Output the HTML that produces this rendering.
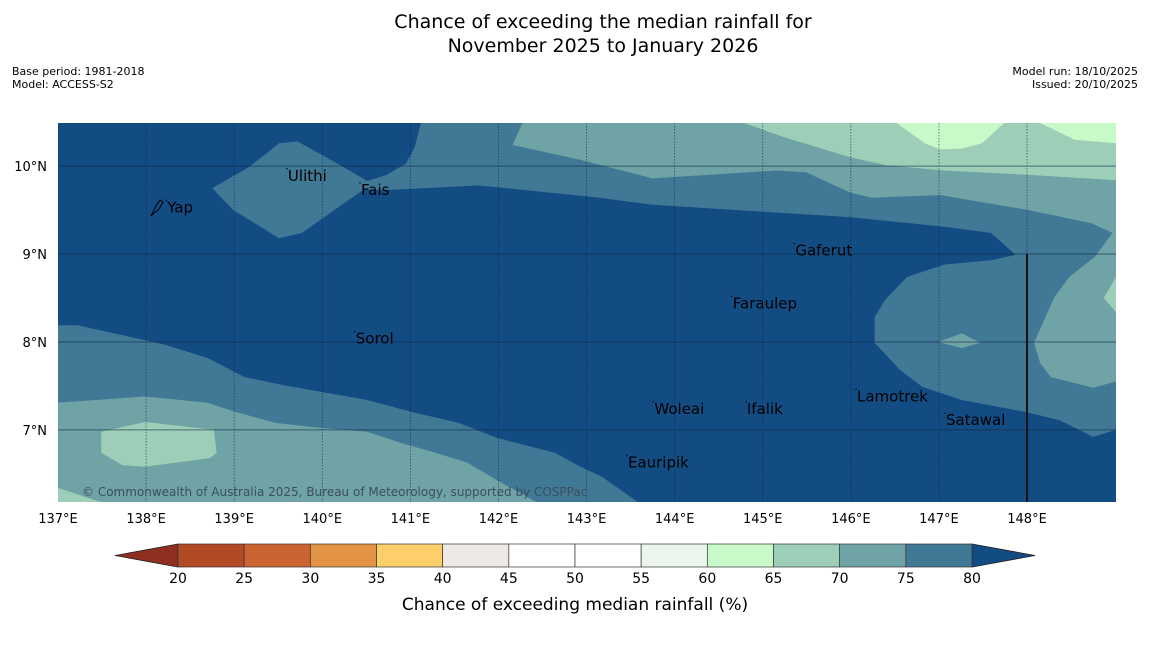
<!DOCTYPE html>
<html><head><meta charset="utf-8"><style>
html,body{margin:0;padding:0;background:#fff;}
body{width:1150px;height:644px;overflow:hidden;font-family:"DejaVu Sans","Liberation Sans",sans-serif;}
svg text{font-family:"DejaVu Sans","Liberation Sans",sans-serif;}
</style></head><body>
<svg id="chart" width="1150" height="644" xmlns="http://www.w3.org/2000/svg">
<text x="603" y="28" font-size="19" text-anchor="middle">Chance of exceeding the median rainfall for</text>
<text x="603" y="52" font-size="19" text-anchor="middle">November 2025 to January 2026</text>
<text x="12" y="75" font-size="11">Base period: 1981-2018</text>
<text x="12" y="88" font-size="11">Model: ACCESS-S2</text>
<text x="1138" y="75" font-size="11" text-anchor="end">Model run: 18/10/2025</text>
<text x="1138" y="88" font-size="11" text-anchor="end">Issued: 20/10/2025</text>
<g id="map"></g>
<g id="cbar"></g>
</svg>
<script>
const lonTicks=[137,138,139,140,141,142,143,144,145,146,147,148];
const latTicks=[7,8,9,10];
const levelColors={"75":"#417896","70":"#6fa3a5","65":"#9dcfb8","60":"#c8f9c9"};
const mid75N=[[141.12,10.49],[141.05,10.22],[140.95,10.03],[140.73,9.90],[140.51,9.83],[140.17,10.03],[139.72,10.28],[139.51,10.26],[139.17,9.99],[138.75,9.75],[138.99,9.50],[139.51,9.18],[139.77,9.24],[140.25,9.58],[140.47,9.73],[140.81,9.73],[141.77,9.78],[143.15,9.64],[143.75,9.56],[145.98,9.42],[147.06,9.31],[147.59,9.24],[147.87,8.99],[147.59,8.93],[147.06,8.88],[146.64,8.74],[146.39,8.48],[146.27,8.28],[146.27,7.99],[146.56,7.68],[146.81,7.49],[147.26,7.34],[148.00,7.20],[148.37,7.11],[148.75,6.92],[149.01,7.00],[149.01,10.49]];
const mid75SW=[[137,8.19],[137.22,8.19],[137.99,8.02],[138.21,7.97],[138.69,7.82],[139.12,7.60],[139.55,7.51],[140.17,7.40],[140.51,7.34],[141.03,7.20],[141.55,7.08],[141.98,6.91],[142.64,6.74],[142.93,6.58],[143.17,6.47],[143.58,6.18],[137,6.18]];
const t70SW=[[137,7.31],[137.99,7.38],[138.69,7.31],[139.03,7.20],[139.47,7.08],[140.00,7.02],[140.51,6.98],[140.90,6.85],[141.25,6.75],[141.64,6.63],[141.98,6.43],[142.43,6.18],[137,6.18]];
const t70NE=[[142.27,10.49],[142.16,10.24],[142.93,10.07],[143.75,9.86],[145.16,9.95],[145.49,9.93],[145.99,9.70],[146.24,9.64],[147.02,9.67],[148.02,9.50],[148.73,9.35],[148.97,9.24],[148.77,8.97],[148.48,8.74],[148.31,8.51],[148.08,7.99],[148.15,7.76],[148.27,7.60],[148.75,7.48],[149.01,7.55],[149.01,10.49]];
const t70small=[[146.99,8.00],[147.26,8.10],[147.47,7.99],[147.26,7.93]];
const g65corner=[[137,6.34],[137.48,6.18],[137,6.18]];
const g65SW=[[137.49,6.98],[137.99,7.09],[138.77,7.00],[138.80,6.74],[138.73,6.68],[137.99,6.58],[137.73,6.60],[137.49,6.74]];
const g65NE=[[144.79,10.49],[145.24,10.33],[145.99,10.10],[146.40,10.01],[147.06,9.95],[148.02,9.90],[149.01,9.84],[149.01,10.49]];
const g65E=[[149.01,8.74],[148.87,8.50],[149.01,8.34]];
const l60a=[[146.52,10.49],[146.84,10.26],[147.01,10.19],[147.26,10.20],[147.49,10.26],[147.74,10.49]];
const l60b=[[148.15,10.49],[148.54,10.30],[149.01,10.26],[149.01,10.49]];
const placeNames=["Yap","Ulithi","Fais","Gaferut","Faraulep","Sorol","Woleai","Ifalik","Lamotrek","Satawal","Eauripik"];
const placeLon=[138.24,139.61,140.44,145.37,144.66,140.38,143.77,144.82,146.07,147.08,143.47];
const placeLat=[9.53,9.89,9.73,9.04,8.44,8.04,7.24,7.24,7.38,7.11,6.63];
const cbarBounds=[20,25,30,35,40,45,50,55,60,65,70,75,80];
const cbarColors=["#b34a26","#cc6431","#e29444","#fdcf6b","#ede9e4","#ffffff","#ffffff","#ebf5eb","#c8f9c9","#9dcfb8","#6fa3a5","#417896"];
const NS="http://www.w3.org/2000/svg";
const X0=58,X1=1116,Y0=123,Y1=502,LON0=137,LON1=149.01,LAT0=6.18,LAT1=10.49;
const xS=l=>X0+(l-LON0)/(LON1-LON0)*(X1-X0);
const yS=l=>Y1-(l-LAT0)/(LAT1-LAT0)*(Y1-Y0);
function mk(tag,attrs,parent){const e=document.createElementNS(NS,tag);for(const k in attrs)e.setAttribute(k,attrs[k]);parent.appendChild(e);return e;}
const map=document.getElementById('map');
const bg=mk('rect',{x:X0,y:Y0,width:X1-X0,height:Y1-Y0,fill:'#134b83'},map);


const layers=[[mid75N,"75"],[mid75SW,"75"],[t70SW,"70"],[t70NE,"70"],[t70small,"70"],[g65corner,"65"],[g65SW,"65"],[g65NE,"65"],[g65E,"65"],[l60a,"60"],[l60b,"60"]];
layers.forEach(([poly,lv])=>{
  const p=mk('polygon',{points:poly.map(q=>xS(q[0]).toFixed(1)+','+yS(q[1]).toFixed(1)).join(' '),fill:levelColors[lv]},map);
  
  
});
lonTicks.forEach(l=>{
  const x=xS(l);
  if(l>LON0){const g=mk('line',{x1:x,x2:x,y1:Y0,y2:Y1,stroke:'#0d2a45','stroke-width':0.8,'stroke-dasharray':'1.5,1.5',opacity:0.7},map);
  
  }
  const t=mk('text',{x:x,y:523,'font-size':13,'text-anchor':'middle'},map);t.textContent=l+'°E';
  
  
});
latTicks.forEach(l=>{
  const y=yS(l);
  const g=mk('line',{x1:X0,x2:X1,y1:y,y2:y,stroke:'#0d2a45','stroke-width':1,opacity:0.6},map);
  
  
  const t=mk('text',{x:47,y:y+5,'font-size':13,'text-anchor':'end'},map);t.textContent=l+'°N';
  
  
});
const bl=mk('line',{x1:xS(148),x2:xS(148),y1:yS(9),y2:Y1,stroke:'#111','stroke-width':2},map);


placeNames.forEach((n,i)=>{
  const x=xS(placeLon[i]),y=yS(placeLat[i]);
  const d=mk('circle',{cx:x-1,cy:y-7,r:0.7,fill:'#000'},map);
  
  
  const t=mk('text',{x:x,y:y+5,'font-size':15,fill:'#000'},map);t.textContent=n;
  
  
});
const yp=mk('path',{d:'M151,216 L156,206 L160,200 L163,202 L159,209 L153,214 Z',fill:'none',stroke:'#000','stroke-width':1},map);


const cp=mk('text',{x:82,y:496,'font-size':12,fill:'#3a4f5f'},map);cp.textContent='© Commonwealth of Australia 2025, Bureau of Meteorology, supported by COSPPac';


const cb=document.getElementById('cbar');
const CX0=178,CX1=972,CY0=544,CY1=567;
const cx=v=>CX0+(v-20)/60*(CX1-CX0);
const le=mk('polygon',{points:`${CX0},${CY0} 115,555.5 ${CX0},${CY1}`,fill:'#8f2f1f',stroke:'#222','stroke-width':0.8},cb);


const re=mk('polygon',{points:`${CX1},${CY0} 1035,555.5 ${CX1},${CY1}`,fill:'#134b83',stroke:'#222','stroke-width':0.8},cb);


cbarColors.forEach((c,i)=>{
  const r=mk('rect',{x:cx(cbarBounds[i]),y:CY0,width:cx(cbarBounds[i+1])-cx(cbarBounds[i]),height:CY1-CY0,fill:c,stroke:'#333','stroke-width':0.7},cb);
  
  
});
cbarBounds.forEach(v=>{
  const t=mk('text',{x:cx(v),y:583,'font-size':14,'text-anchor':'middle'},cb);t.textContent=v;
  
  
});
const ct=mk('text',{x:575,y:610,'font-size':17,'text-anchor':'middle'},cb);ct.textContent='Chance of exceeding median rainfall (%)';


</script>
</body></html>
